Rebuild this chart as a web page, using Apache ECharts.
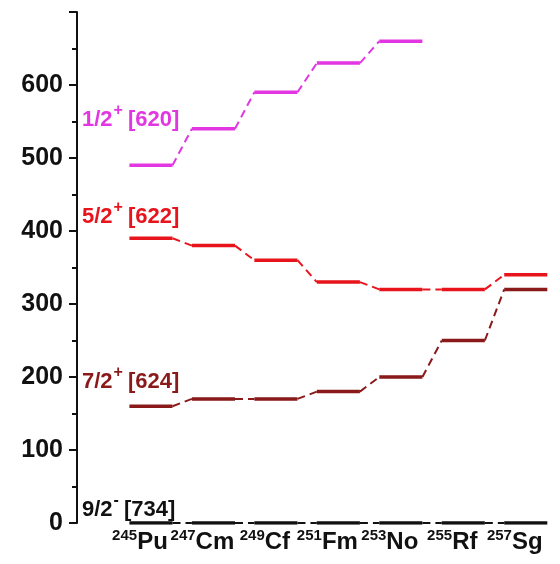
<!DOCTYPE html>
<html>
<head>
<meta charset="utf-8">
<script src="https://cdn.jsdelivr.net/npm/echarts@6/dist/echarts.min.js"></script>
<style>
  html, body { margin: 0; padding: 0; background: #fff; }
  #chart { width: 560px; height: 564px; }
</style>
</head>
<body>
<div id="chart"></div>
<script>
// isotones, one column each
const elements = ['Pu', 'Cm', 'Cf', 'Fm', 'No', 'Rf', 'Sg']
const massNumbers = ['245', '247', '249', '251', '253', '255', '257']

// level energies (keV) per column
const level620 = [490, 540, 590, 630, 660]
const level622 = [390, 380, 360, 330, 320, 320, 340]
const level624 = [160, 170, 170, 180, 200, 250, 320]
const level734 = [0, 0, 0, 0, 0, 0, 0]

const yTicks = [0, 100, 200, 300, 400, 500, 600]

const HALF = 0.345
const FONT = 'Liberation Sans, Arial, sans-serif'

function levelSeries(values, color) {
  let solid = []
  let dashed = []
  values.forEach((v, i) => {
    solid.push([i - HALF, v], [i + HALF, v], [i + HALF, '-'])
    if (i < values.length - 1) {
      dashed.push([i + HALF, v], [i + 1 - HALF, values[i + 1]], [i + 1 - HALF, '-'])
    }
  })
  return [
    {
      type: 'line',
      data: solid,
      symbol: 'none',
      silent: true,
      lineStyle: { color: color, width: 3.5, cap: 'butt' }
    },
    {
      type: 'line',
      data: dashed,
      symbol: 'none',
      silent: true,
      lineStyle: { color: color, width: 2, type: [8, 5] }
    }
  ]
}

function stateLabel(text, sup, orbit, color, left, top) {
  return {
    type: 'text',
    left: left,
    top: top,
    style: {
      text: `{a|${text}}{s|${sup}}{a|${orbit}}`,
      rich: {
        a: { fontSize: 22, fontWeight: 'bold', fontFamily: FONT, fill: color, color: color, lineHeight: 28, verticalAlign: 'bottom' },
        s: { fontSize: 16, fontWeight: 'bold', fontFamily: FONT, fill: color, color: color, lineHeight: 28, verticalAlign: 'top', padding: [0, 5, 0, 1] }
      }
    }
  }
}

const chart = echarts.init(document.getElementById('chart'))

const option = {
  animation: false,
  grid: { left: 88.5, right: 2.5, top: 12, bottom: 41, containLabel: false },
  xAxis: {
    type: 'value',
    min: -1,
    max: 6.5,
    interval: 1,
    axisLine: { show: false },
    axisTick: { show: false },
    splitLine: { show: false },
    axisLabel: {
      margin: 5,
      padding: [0, 22, 0, 0],
      formatter: (v) => {
        if (!Number.isInteger(v) || v < 0 || v >= elements.length) return ''
        return `{m|${massNumbers[v]}}{e|${elements[v]}}`
      },
      rich: {
        m: { fontSize: 15, fontWeight: 'bold', fontFamily: FONT, color: '#111', verticalAlign: 'top', lineHeight: 26 },
        e: { fontSize: 24, fontWeight: 'bold', fontFamily: FONT, color: '#111', verticalAlign: 'bottom', lineHeight: 26 }
      }
    }
  },
  yAxis: {
    type: 'value',
    min: 0,
    max: 700,
    interval: 100,
    offset: 11.5,
    axisLine: { show: true, onZero: false, lineStyle: { color: '#111', width: 2 } },
    axisTick: { show: true, inside: false, length: 8, lineStyle: { color: '#111', width: 2 } },
    minorTick: { show: true, splitNumber: 2, length: 5, lineStyle: { color: '#111', width: 2 } },
    splitLine: { show: false },
    axisLabel: {
      margin: 14,
      fontSize: 25,
      fontWeight: 'bold',
      fontFamily: FONT,
      color: '#111',
      formatter: (v) => (yTicks.indexOf(v) >= 0 ? String(v) : '')
    }
  },
  series: [
    ...levelSeries(level620, '#e236e2'),
    ...levelSeries(level622, '#e8141c'),
    ...levelSeries(level624, '#8a1a1a'),
    ...levelSeries(level734, '#111111')
  ],
  graphic: [
    stateLabel('1/2', '+', '[620]', '#e236e2', 82, 103),
    stateLabel('5/2', '+', '[622]', '#e8141c', 82, 200),
    stateLabel('7/2', '+', '[624]', '#8a1a1a', 82, 365),
    stateLabel('9/2', '-', '[734]', '#111111', 82, 493)
  ]
}

chart.setOption(option)
</script>
</body>
</html>
